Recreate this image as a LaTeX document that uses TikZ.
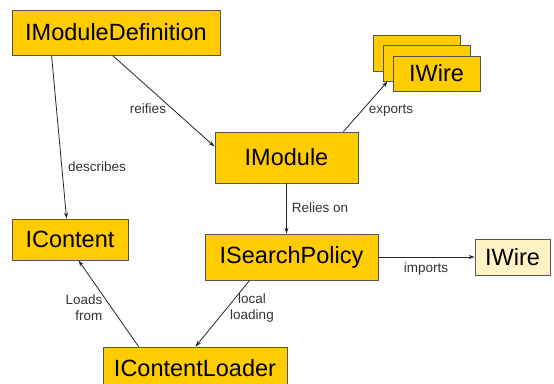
\documentclass[tikz,border=0pt]{standalone}
\usepackage{fontspec}
\setmainfont{Liberation Sans}
\usetikzlibrary{arrows.meta,calc}
\definecolor{boxfill}{HTML}{FFCC00}
\definecolor{lightfill}{HTML}{FFF2C4}
\definecolor{edgegray}{HTML}{555555}
\definecolor{labelgray}{HTML}{333333}
\tikzset{
  iface/.style={draw=edgegray, line width=0.9pt, fill=boxfill, inner sep=0pt,
    font=\fontsize{23.5}{26}\selectfont, text=black},
  ifacelight/.style={iface, fill=lightfill},
  rel/.style={draw=black!85, line width=0.8pt, -{Stealth[length=6pt,width=4pt]}},
  lbl/.style={font=\fontsize{13.5}{16}\selectfont, text=labelgray, inner sep=1pt}
}
\begin{document}
\begin{tikzpicture}[x=1pt,y=-1pt]
\useasboundingbox (0,0) rectangle (554,383);
\clip (0,0) rectangle (554,383);
\fill[white] (0,0) rectangle (554,383);

% interface boxes
\node[iface, minimum width=208pt, minimum height=45pt] (md) at (116,32.5) {IModuleDefinition};
\node[iface, minimum width=87pt, minimum height=36pt] (wb) at (416.5,53) {};
\node[iface, minimum width=87pt, minimum height=36pt] (wm) at (426.5,63) {};
\node[iface, minimum width=87pt, minimum height=35pt] (wf) at (436.5,73.5) {IWire};
\node[iface, minimum width=143pt, minimum height=51pt] (mod) at (286.5,157.5) {IModule};
\node[iface, minimum width=116pt, minimum height=41pt] (con) at (70,239.5) {IContent};
\node[iface, minimum width=173pt, minimum height=46pt] (sp) at (291.5,257) {ISearchPolicy};
\node[ifacelight, minimum width=75pt, minimum height=36pt] (wi) at (512.5,257) {IWire};
\node[iface, minimum width=184pt, minimum height=42pt] (ld) at (195,368) {IContentLoader};

% relations
\draw[rel] ($(md.south west)+(40,0)$) -- ($(con.north west)+(55,0)$);
\draw[rel] ($(md.south west)+(101,0)$) -- ($(mod.north west)+(0,15)$);
\draw[rel] ($(mod.north east)+(-15,0)$) -- ($(wm.south west)+(5,0)$);
\draw[rel] (mod.south) -- (sp.north -| mod.south);
\draw[rel] (sp.east) -- (wi.west);
\draw[rel] ($(sp.south west)+(45,0)$) -- ($(ld.north west)+(93,0)$);
\draw[rel] ($(ld.north west)+(36,0)$) -- ($(con.south west)+(67,0)$);

% relation labels
\node[lbl] (tdesc) at (97,167) {describes};
\node[lbl] (treif) at (148,109) {reifies};
\node[lbl] (texp) at (391,111) {exports};
\node[lbl] (trel) at (320,208) {Relies on};
\node[lbl] (timp) at (426,269) {imports};
\node[lbl, align=center] (tloc) at (252,308) {local\\loading};
\node[lbl, align=right] (tload) at (84,308) {Loads\\from};
\end{tikzpicture}
\end{document}
